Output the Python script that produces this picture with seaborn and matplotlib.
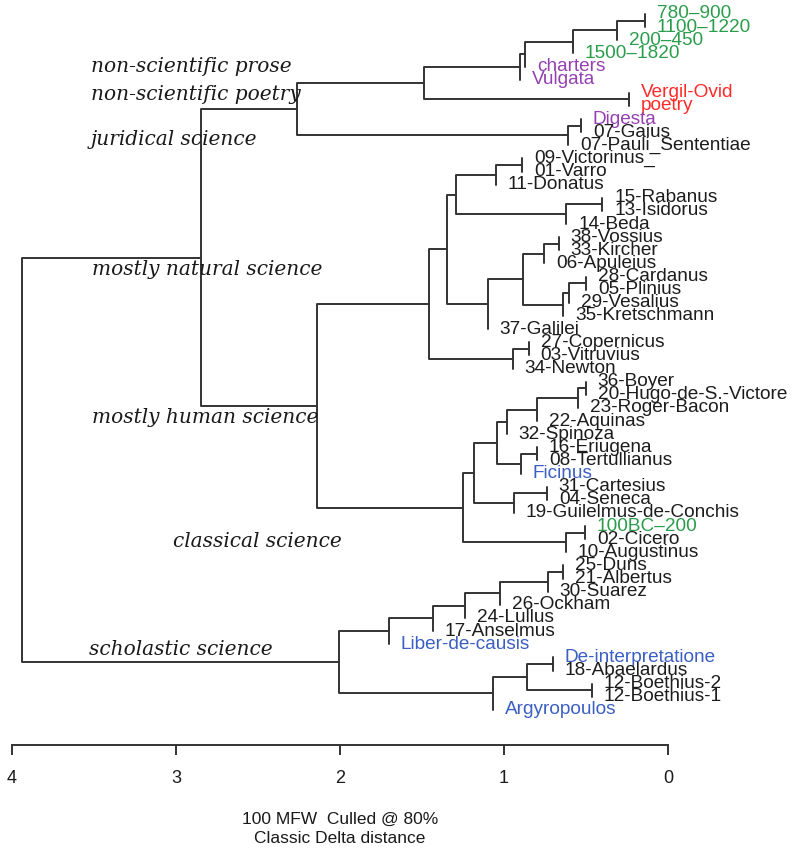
import numpy as np
import pandas as pd
import matplotlib
matplotlib.use("Agg")
import matplotlib.pyplot as plt
import seaborn as sns

# ---------------- data ----------------
leaf_labels = [
    "780\u2013900", "1100\u20131220", "200\u2013450", "1500\u20131820", "charters", "Vulgata",
    "Vergil-Ovid", "poetry", "Digesta", "07-Gaius", "07-Pauli_Sententiae",
    "09-Victorinus_", "01-Varro", "11-Donatus", "15-Rabanus", "13-Isidorus", "14-Beda",
    "38-Vossius", "33-Kircher", "06-Apuleius", "28-Cardanus", "05-Plinius", "29-Vesalius",
    "35-Kretschmann", "37-Galilei", "27-Copernicus", "03-Vitruvius", "34-Newton",
    "36-Boyer", "20-Hugo-de-S.-Victore", "23-Roger-Bacon", "22-Aquinas", "32-Spinoza",
    "16-Eriugena", "08-Tertullianus", "Ficinus", "31-Cartesius", "04-Seneca",
    "19-Guilelmus-de-Conchis", "100BC\u2013200", "02-Cicero", "10-Augustinus",
    "25-Duns", "21-Albertus", "30-Suarez", "26-Ockham", "24-Lullus", "17-Anselmus",
    "Liber-de-causis", "De-interpretatione", "18-Abaelardus", "12-Boethius-2",
    "12-Boethius-1", "Argyropoulos",
]
leaf_groups = [
    "period", "period", "period", "period", "text", "text",
    "poetry", "poetry", "text", "author", "author",
    "author", "author", "author", "author", "author", "author",
    "author", "author", "author", "author", "author", "author",
    "author", "author", "author", "author", "author",
    "author", "author", "author", "author", "author",
    "author", "author", "translation", "author", "author",
    "author", "period", "author", "author",
    "author", "author", "author", "author", "author", "author",
    "translation", "translation", "author", "author",
    "author", "translation",
]
# hclust-style merges: negative = leaf number, positive = earlier merge number
merge_left = [-1, 1, 2, 3, 4, -7, 5, -9, 8, 7,
              -12, 11, -15, 13, 12, -18, 16, -21, 18, 19,
              17, 21, 15, -26, 24, 23, -29, 27, 28, 29,
              -34, 31, 30, -37, 34, 33, -40, 37, 36, 26,
              10, -43, 42, 43, 44, 45, 46, -50, -52, 48,
              50, 47, 41]
merge_right = [-2, -3, -4, -5, -6, -8, 6, -10, -11, 9,
               -13, -14, -16, -17, 14, -19, -20, -22, -23, -24,
               20, -25, 22, -27, -28, 25, -30, -31, -32, -33,
               -35, -36, 32, -38, -39, 35, -41, -42, 38, 39,
               40, -44, -45, -46, -47, -48, -49, -51, -53, 49,
               -54, 51, 52]
merge_height = [0.14, 0.31, 0.58, 0.87, 0.90, 0.24, 1.49, 0.53, 0.61, 2.26,
                0.89, 1.05, 0.40, 0.62, 1.29, 0.665, 0.756, 0.50, 0.604, 0.64,
                0.884, 1.098, 1.348, 0.848, 0.945, 1.457, 0.50, 0.549, 0.799, 0.982,
                0.799, 0.896, 1.043, 0.738, 0.939, 1.183, 0.506, 0.622, 1.25, 2.14,
                2.85, 0.64, 0.732, 1.024, 1.238, 1.433, 1.701, 0.701, 0.463, 0.86,
                1.067, 2.006, 3.94]
axis_ticks = [4, 3, 2, 1, 0]
group_names = ["non-scientific prose", "non-scientific poetry", "juridical science",
               "mostly natural science", "mostly human science", "classical science",
               "scholastic science"]
subtitle = "100 MFW  Culled @ 80%\nClassic Delta distance"

# ---------------- styling / layout ----------------
palette = {"author": "#1c1c1c", "period": "#2a9d4b", "text": "#9440b0",
           "poetry": "#ff2a2a", "translation": "#3b5fc2"}
group_pos = [(3.52, 5.0), (3.52, 7.15), (3.52, 10.55), (3.51, 20.45),
             (3.51, 31.72), (3.02, 41.2), (3.53, 49.4)]
line_col = "#333333"

sns.set_theme(style="white")
plt.rcParams["font.family"] = ["Liberation Sans", "DejaVu Sans"]

W, H = 792, 861
fig = plt.figure(figsize=(W / 100, H / 100), dpi=100)
ax = fig.add_axes([12 / W, (H - 745) / H, 656 / W, 745 / H])

# ---------------- dendrogram geometry ----------------
n = len(leaf_labels)
leaf_y = np.arange(1, n + 1, dtype=float)
leaf_h = np.zeros(n)
node_h, node_y = {}, {}
rows = []
for k, (l, r, h) in enumerate(zip(merge_left, merge_right, merge_height), start=1):
    pts = []
    for c in (l, r):
        if c < 0:
            leaf_h[-c - 1] = h
            pts.append((h, leaf_y[-c - 1]))
        else:
            pts.append((node_h[c], node_y[c]))
    (hl, yl), (hr, yr) = pts
    node_h[k] = h
    node_y[k] = (yl + yr) / 2
    for order, (xx, yy) in enumerate([(hl, yl), (h, yl), (h, yr), (hr, yr)]):
        rows.append({"node": k, "order": order, "height": xx, "pos": yy})
seg = pd.DataFrame(rows)

sns.lineplot(data=seg, x="height", y="pos", units="node", estimator=None,
             sort=False, color=line_col, linewidth=1.4, ax=ax)

for lab, grp, h, y in zip(leaf_labels, leaf_groups, leaf_h, leaf_y):
    ax.annotate(lab, xy=(h, y), xytext=(8.5, 0), textcoords="offset points",
                ha="left", va="center", fontsize=13.7, color=palette[grp],
                annotation_clip=False)

for name, (gx, gy) in zip(group_names, group_pos):
    ax.text(gx, gy, name, ha="left", va="center", fontsize=14.5,
            family=["DejaVu Serif", "Liberation Serif"], style="italic",
            color="#1a1a1a")

# ---------------- axes ----------------
spacing = 13.13
def px_to_pos(p):
    return 1 + (p - 14) / spacing

ax.set_xlim(4, 0)
ax.set_ylim(px_to_pos(745), px_to_pos(0))
ax.set_yticks([])
ax.set_ylabel("")
ax.set_xticks(axis_ticks)
ax.set_xticklabels([str(t) for t in axis_ticks])
for s in ("left", "top", "right"):
    ax.spines[s].set_visible(False)
ax.spines["bottom"].set_bounds(0, 4)
ax.spines["bottom"].set_color(line_col)
ax.spines["bottom"].set_linewidth(1.4)
ax.tick_params(axis="x", bottom=True, direction="out", length=7.5, width=1.4,
               color=line_col, pad=10.5, labelsize=13, labelcolor="#1a1a1a")
ax.set_xlabel(subtitle, fontsize=12.5, labelpad=18, linespacing=1.35,
              color="#1a1a1a")
ax.patch.set_alpha(0)

fig.savefig("out.png", dpi=100)
